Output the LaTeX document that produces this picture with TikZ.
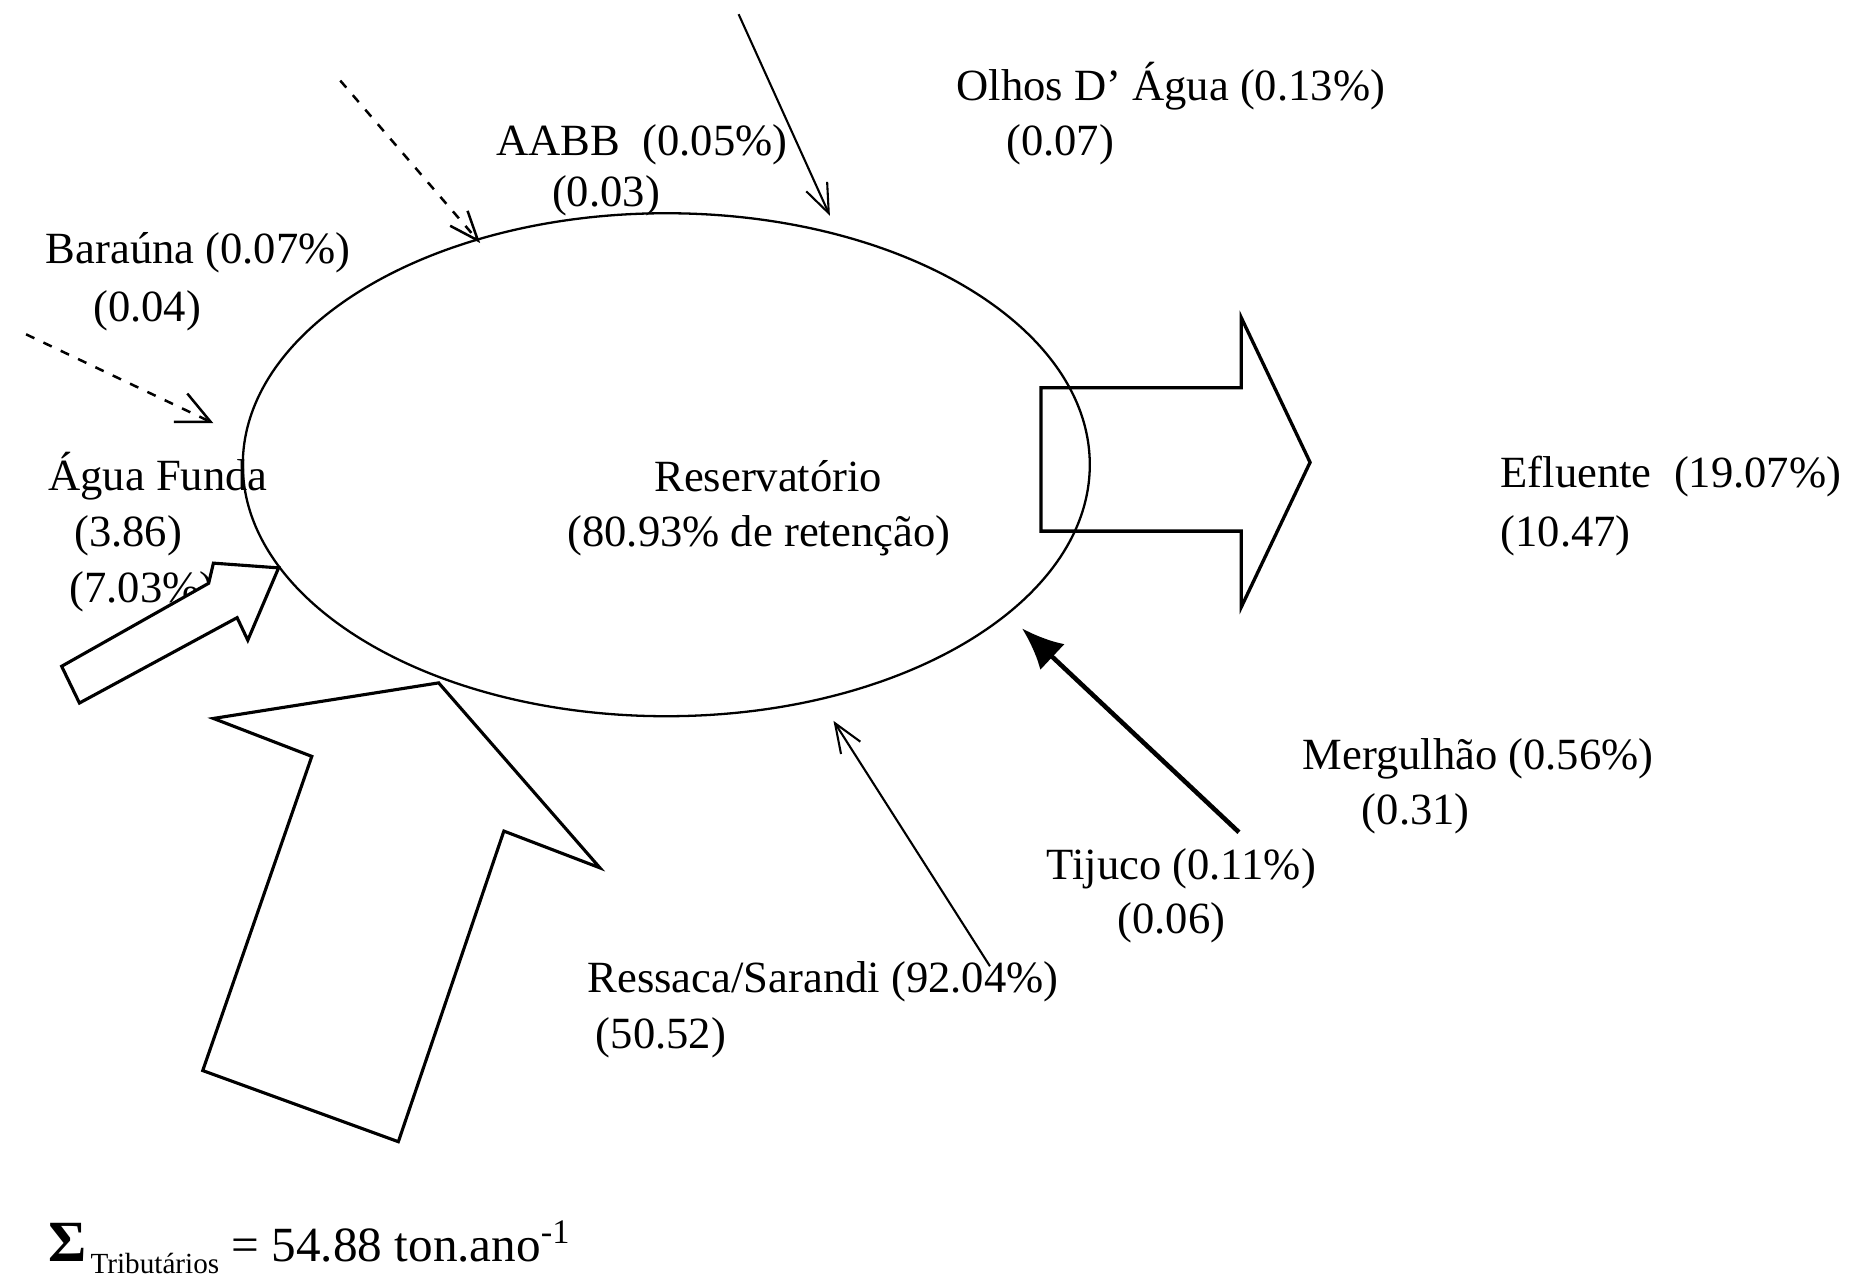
\documentclass[tikz,border=0pt]{standalone}
\usepackage{fontspec}
\setmainfont{Liberation Serif}
\usetikzlibrary{shapes.geometric,arrows.meta}
\begin{document}
\begin{tikzpicture}[x=0.01cm,y=-0.01cm,
  lbl/.style={anchor=west,inner sep=0pt,font=\fontsize{10.7}{12}\selectfont},
  clbl/.style={anchor=center,inner sep=0pt,font=\fontsize{10.7}{12}\selectfont},
  thinln/.style={line width=0.5pt},
  openhead/.style={-{Straight Barb[length=7pt,width=5.5pt]}},
  widehead/.style={-{Straight Barb[length=8pt,width=7.5pt]}},
  dashln/.style={line width=0.6pt,dash pattern=on 2.2pt off 2.4pt},
  blockarrow/.style={line width=0.75pt,line join=miter,fill=white},
  heavyarrow/.style={line width=1.1pt,-{Latex[length=10pt,width=8.5pt]}}]
\useasboundingbox (0,0) rectangle (1568,1086);

% reservoir
\node[draw,ellipse,line width=0.55pt,minimum width=7.14cm,minimum height=4.24cm,inner sep=0pt] (res) at (562,392) {};
\node[clbl] (resA) at (648,402) {Reservatório};
\node[clbl] (resB) at (640,452) {(80.93\% de retenção)};

% labels
\node[lbl] (olA) at (806,73) {Olhos D’ Água (0.13\%)};
\node[lbl] (olB) at (848,122) {(0.07)};
\node[lbl] (abA) at (418,122) {AABB\ \ (0.05\%)};
\node[lbl] (abB) at (465,165) {(0.03)};
\node[lbl] (baA) at (38,213) {Baraúna (0.07\%)};
\node[lbl] (baB) at (78,262) {(0.04)};
\node[lbl] (afA) at (40,402) {Água Funda};
\node[lbl] (afB) at (62,452) {(3.86)};
\node[lbl] (afC) at (58,499) {(7.03\%)};
\node[lbl] (efA) at (1265,402) {Efluente\ \ (19.07\%)};
\node[lbl] (efB) at (1265,452) {(10.47)};
\node[lbl] (meA) at (1098,640) {Mergulhão (0.56\%)};
\node[lbl] (meB) at (1148,686) {(0.31)};
\node[lbl] (tjA) at (882,733) {Tijuco (0.11\%)};
\node[lbl] (tjB) at (942,778) {(0.06)};
\node[lbl] (rsA) at (495,828) {Ressaca/Sarandi (92.04\%)};
\node[lbl] (rsB) at (502,875) {(50.52)};
\node[anchor=base west,inner sep=0pt] (sum) at (40,1064) {{\fontsize{14}{12}\selectfont\bfseries Σ}\hspace{1pt}\raisebox{-2.8pt}{\fontsize{7}{7}\selectfont Tributários}\hspace{3pt}{\fontsize{11.8}{12}\selectfont = 54.88 ton.ano\textsuperscript{-1}}};

% thin arrows
\coordinate (olS) at (623,12);
\coordinate (olE) at (700,182);
\draw[thinln,openhead] (olS) -- (olE);
\coordinate (abS) at (287,68);
\coordinate (abE) at (405,205);
\draw[dashln,openhead] (abS) -- (abE);
\coordinate (baS) at (22,282);
\coordinate (baE) at (180,357);
\draw[dashln,widehead] (baS) -- (baE);
\coordinate (rsS) at (835,815);
\coordinate (rsE) at (703,608);
\draw[thinln,openhead] (rsS) -- (rsE);
\coordinate (tjS) at (1045,702);
\coordinate (tjE) at (862,530);
\draw[heavyarrow] (tjS) -- (tjE);

% effluent block arrow
\draw[line width=0.8pt,line join=miter] (878,327) -- (1047,327) -- (1047,268) -- (1105,390) -- (1047,512) -- (1047,448) -- (878,448) -- cycle;

% Agua Funda block arrow
\draw[blockarrow] (52,562) -- (176,492) -- (180,475) -- (235,479) -- (209,540) -- (200,521) -- (67,593) -- cycle;

% Ressaca/Sarandi block arrow
\draw[line width=0.75pt,line join=miter] (263,638) -- (180,606) -- (370,576) -- (506,732) -- (425,701) -- (336,963) -- (171,903) -- cycle;
\end{tikzpicture}
\end{document}
